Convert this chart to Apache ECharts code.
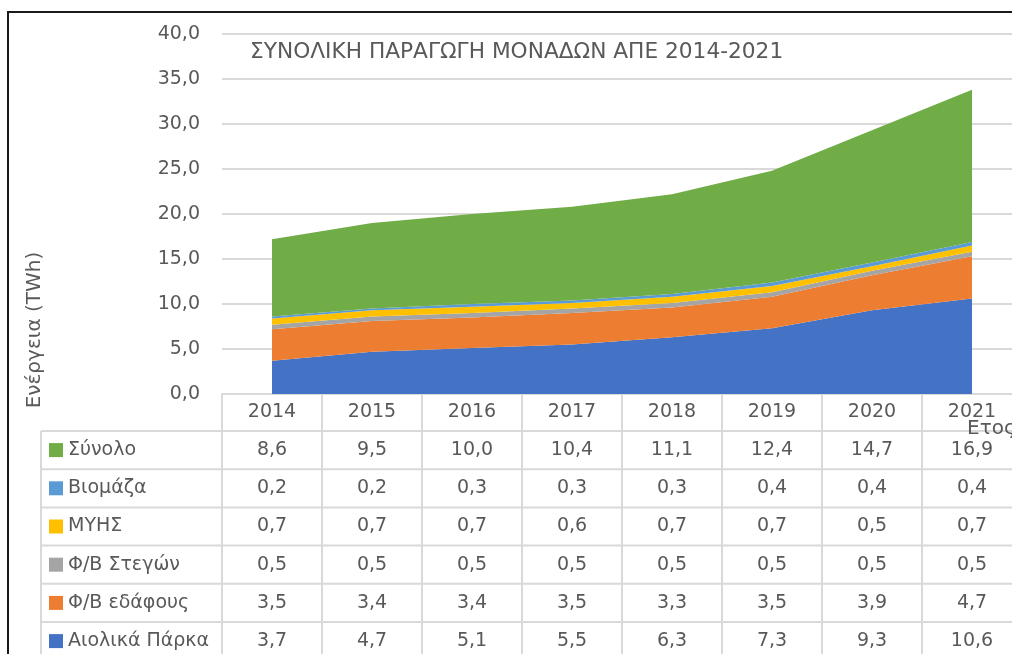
<!DOCTYPE html>
<html>
<head>
<meta charset="utf-8">
<script src="https://cdn.jsdelivr.net/npm/echarts@6/dist/echarts.min.js"></script>
<style>
html, body { margin: 0; padding: 0; background: #fff; overflow: hidden; }
/* the canvas is a little wider than the window so the last column runs off the right edge */
#chart { width: 1022px; height: 654px; }
</style>
</head>
<body>
<div id="chart"></div>
<script>
// Years on the category axis
const years = ['2014', '2015', '2016', '2017', '2018', '2019', '2020', '2021'];

// Production per source (TWh), bottom of the stack first
const windParks   = [3.7, 4.7, 5.1, 5.5, 6.3, 7.3, 9.3, 10.6];
const pvGround    = [3.5, 3.4, 3.4, 3.5, 3.3, 3.5, 3.9, 4.7];
const pvRoofs     = [0.5, 0.5, 0.5, 0.5, 0.5, 0.5, 0.5, 0.5];
const smallHydro  = [0.7, 0.7, 0.7, 0.6, 0.7, 0.7, 0.5, 0.7];
const biomass     = [0.2, 0.2, 0.3, 0.3, 0.3, 0.4, 0.4, 0.4];
const totalSeries = [8.6, 9.5, 10.0, 10.4, 11.1, 12.4, 14.7, 16.9];

// Y axis ticks
const yMin = 0, yMax = 40, yStep = 5;

const seriesDefs = [
  { name: 'Αιολικά Πάρκα', data: windParks,   color: '#4472C4' },
  { name: 'Φ/Β εδάφους',   data: pvGround,    color: '#ED7D31' },
  { name: 'Φ/Β Στεγών',    data: pvRoofs,     color: '#A5A5A5' },
  { name: 'ΜΥΗΣ',          data: smallHydro,  color: '#FFC000' },
  { name: 'Βιομάζα',       data: biomass,     color: '#5B9BD5' },
  { name: 'Σύνολο',        data: totalSeries, color: '#70AD47' }
];

const FONT = 'DejaVu Sans';
const TEXT = '#595959';
const GRIDC = '#d9d9d9';
const fmt = v => v.toFixed(1).replace('.', ',');

const chart = echarts.init(document.getElementById('chart'), null, { renderer: 'canvas' });

const option = {
  animation: false,
  backgroundColor: '#fff',
  title: {
    text: 'ΣΥΝΟΛΙΚΗ ΠΑΡΑΓΩΓΗ ΜΟΝΑΔΩΝ ΑΠΕ 2014-2021',
    left: 245, top: 36,
    textStyle: { fontFamily: FONT, fontSize: 21.7, fontWeight: 'normal', color: TEXT }
  },
  grid: { left: 222, right: 0, top: 34, bottom: 260, containLabel: false },
  xAxis: {
    type: 'category',
    data: years,
    boundaryGap: true,
    axisLine: { show: true, lineStyle: { color: GRIDC, width: 2 } },
    axisTick: { show: false },
    axisLabel: { show: false }
  },
  yAxis: {
    type: 'value',
    min: yMin, max: yMax, interval: yStep,
    axisLine: { show: false },
    axisTick: { show: false },
    axisLabel: {
      formatter: v => fmt(v),
      fontFamily: FONT, fontSize: 19, color: TEXT, margin: 22
    },
    splitLine: { lineStyle: { color: GRIDC, width: 2 } }
  },
  series: seriesDefs.map(s => ({
    name: s.name,
    type: 'line',
    stack: 'total',
    data: s.data,
    symbol: 'none',
    lineStyle: { width: 0 },
    areaStyle: { color: s.color, opacity: 1 },
    itemStyle: { color: s.color }
  }))
};

chart.setOption(option);

// Data table under the plot, aligned with the category columns
function buildTable() {
  const g = [];
  const colX = years.map((y, i) => chart.convertToPixel({ xAxisIndex: 0 }, i));
  const half = colX.length > 1 ? (colX[1] - colX[0]) / 2 : 50;
  const tableLeft = 41;
  const headTop = 394;
  const rowH = 38.2;
  const bodyTop = headTop + 37;
  const rows = seriesDefs.slice().reverse();
  const rightEdge = 1022;
  const lineStyle = { stroke: GRIDC, lineWidth: 2 };
  const font = '19px "' + FONT + '"';

  // horizontal rules
  g.push({ type: 'line', shape: { x1: colX[0] - half, y1: headTop, x2: rightEdge, y2: headTop }, style: lineStyle, silent: true });
  for (let r = 0; r <= rows.length; r++) {
    const y = bodyTop + r * rowH;
    g.push({ type: 'line', shape: { x1: tableLeft, y1: y, x2: rightEdge, y2: y }, style: lineStyle, silent: true });
  }
  const bottom = bodyTop + rows.length * rowH;
  // vertical rules
  g.push({ type: 'line', shape: { x1: tableLeft, y1: bodyTop, x2: tableLeft, y2: bottom }, style: lineStyle, silent: true });
  colX.forEach(cx => {
    g.push({ type: 'line', shape: { x1: cx - half, y1: headTop, x2: cx - half, y2: bottom }, style: lineStyle, silent: true });
  });

  // header years
  years.forEach((y, i) => {
    g.push({ type: 'text', x: colX[i], y: headTop + 18.5, silent: true,
      style: { text: y, fill: TEXT, font: font, textAlign: 'center', textVerticalAlign: 'middle' } });
  });

  // body rows
  rows.forEach((s, r) => {
    const cy = bodyTop + r * rowH + rowH / 2;
    g.push({ type: 'rect', shape: { x: 49, y: cy - 7, width: 14, height: 14 }, style: { fill: s.color }, silent: true });
    g.push({ type: 'text', x: 68, y: cy, silent: true,
      style: { text: s.name, fill: TEXT, font: font, textAlign: 'left', textVerticalAlign: 'middle' } });
    s.data.forEach((v, i) => {
      g.push({ type: 'text', x: colX[i], y: cy, silent: true,
        style: { text: fmt(v), fill: TEXT, font: font, textAlign: 'center', textVerticalAlign: 'middle' } });
    });
  });

  // axis titles
  g.push({ type: 'text', x: 35, y: 330, rotation: Math.PI / 2, silent: true,
    style: { text: 'Ενέργεια (TWh)', fill: TEXT, font: '20px "' + FONT + '"', textAlign: 'center', textVerticalAlign: 'middle' } });
  g.push({ type: 'text', x: 967, y: 429, silent: true,
    style: { text: 'Ετος', fill: TEXT, font: '20px "' + FONT + '"', textAlign: 'left', textVerticalAlign: 'middle' } });

  // outer frame
  g.push({ type: 'polyline', shape: { points: [[8, 660], [8, 12], [1030, 12]] }, style: { stroke: '#1a1a1a', lineWidth: 2, fill: null }, silent: true });

  chart.setOption({ graphic: g });
}
buildTable();
</script>
</body>
</html>
